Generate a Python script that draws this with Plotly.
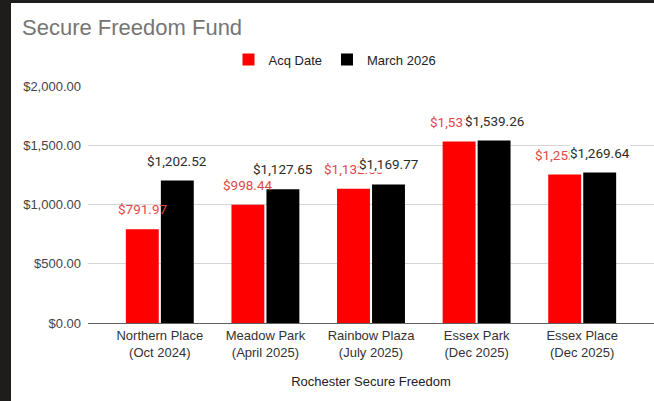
import plotly.graph_objects as go

# Chart data
properties = ["Northern Place<br>(Oct 2024)", "Meadow Park<br>(April 2025)",
              "Rainbow Plaza<br>(July 2025)", "Essex Park<br>(Dec 2025)",
              "Essex Place<br>(Dec 2025)"]
acq_date = [791.97, 998.44, 1132.50, 1531.40, 1252.80]
march_2026 = [1202.52, 1127.65, 1169.77, 1539.26, 1269.64]
y_ticks = [0, 500, 1000, 1500, 2000]

W, H = 654, 401
ML, MR, MT, MB = 88, 0, 86, 78
PW, PH = W - ML - MR, H - MT - MB

RED = "#ff0000"
BLACK = "#000000"
AXIS_FONT = "Liberation Sans, Arial, sans-serif"
LABEL_FONT = "Roboto, sans-serif"

BARGAP = 0.337
GROUPGAP = 0.06
half_slot = (1 - BARGAP) / 4  # offset of each bar centre from category centre

x_idx = list(range(len(properties)))

fig = go.Figure()
fig.add_trace(go.Bar(name="Acq Date", x=x_idx, y=acq_date, marker_color=RED,
                     marker_line_width=0))
fig.add_trace(go.Bar(name="March 2026", x=x_idx, y=march_2026, marker_color=BLACK,
                     marker_line_width=0))

fmt = lambda v: f"${v:,.2f}"
annotations = []
# red labels first, black labels drawn over them
for i, v in enumerate(acq_date):
    annotations.append(dict(x=i - half_slot, y=v, xref="x", yref="y", text=fmt(v),
                            showarrow=False, yanchor="middle", yshift=20,
                            font=dict(family=LABEL_FONT, size=13.5, color="#e24848")))
for i, v in enumerate(march_2026):
    annotations.append(dict(x=i + half_slot, y=v, xref="x", yref="y", text=fmt(v),
                            showarrow=False, yanchor="middle", yshift=20,
                            bgcolor="white", borderpad=0,
                            font=dict(family=LABEL_FONT, size=13.5, color="#2b2b2b")))

# dark frame around the screenshot edges
frame = "#1f1c1c"
shapes = [
    dict(type="rect", xref="paper", yref="paper", layer="above", line_width=0,
         fillcolor=frame, x0=-ML / PW, x1=(11 - ML) / PW,
         y0=-MB / PH, y1=1 + MT / PH),
    dict(type="rect", xref="paper", yref="paper", layer="above", line_width=0,
         fillcolor=frame, x0=-ML / PW, x1=1 + MR / PW,
         y0=1 + (MT - 3) / PH, y1=1 + MT / PH),
]

fig.update_layout(
    width=W, height=H,
    margin=dict(l=ML, r=MR, t=MT, b=MB, pad=0),
    paper_bgcolor="white", plot_bgcolor="white",
    barmode="group", bargap=BARGAP, bargroupgap=GROUPGAP,
    title=dict(text="Secure Freedom Fund", x=22 / W, xref="container", xanchor="left",
               y=1 - 27 / H, yref="container", yanchor="middle",
               font=dict(family=AXIS_FONT, size=22, color="#757575")),
    legend=dict(orientation="h", x=(335 - ML) / PW, xanchor="center",
                y=1 + (MT - 59.5) / PH, yanchor="middle",
                font=dict(family=AXIS_FONT, size=13, color="#222222"),
                itemwidth=30, bgcolor="rgba(0,0,0,0)"),
    xaxis=dict(tickmode="array", tickvals=x_idx, ticktext=properties,
               range=[-0.68, 4.68], showgrid=False, zeroline=False,
               showline=True, linecolor="#5f5f5f", linewidth=1, ticks="",
               tickfont=dict(family=AXIS_FONT, size=13, color="#333333"),
               title=dict(text="Rochester Secure Freedom", standoff=18,
                          font=dict(family=AXIS_FONT, size=13, color="#222222"))),
    yaxis=dict(range=[0, 2000], tickmode="array", tickvals=y_ticks,
               tickformat="$,.2f", showgrid=True, gridcolor="#d6d6d6", gridwidth=1,
               zeroline=False, showline=False, ticks="", ticklabelstandoff=6,
               tickfont=dict(family=AXIS_FONT, size=13, color="#444444")),
    annotations=annotations, shapes=shapes,
    showlegend=True,
)

fig.write_html("out.html")
